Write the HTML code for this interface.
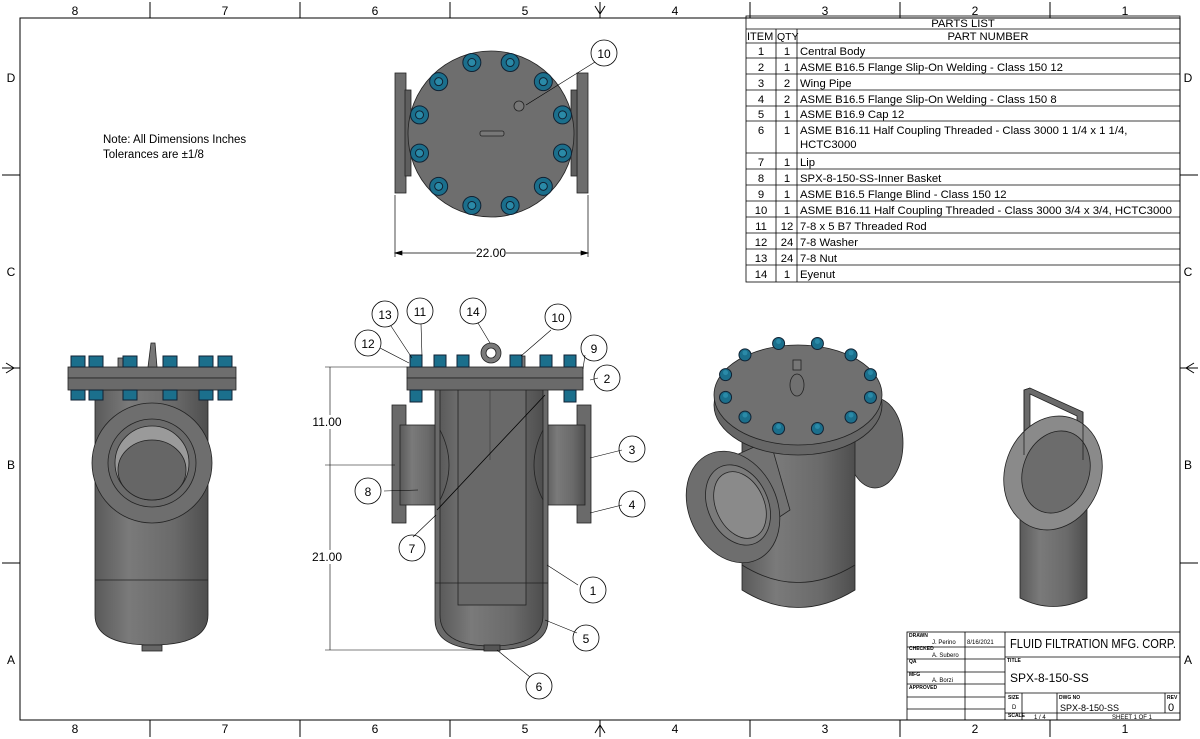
<!DOCTYPE html>
<html><head><meta charset="utf-8"><style>
body{margin:0;background:#fff}
svg{display:block;font-family:"Liberation Sans",sans-serif}
</style></head><body>
<svg id="s" width="1200" height="739" viewBox="0 0 1200 739" xmlns="http://www.w3.org/2000/svg">
<defs>
<linearGradient id="g" x1="0" x2="1" y1="0" y2="0"><stop offset="0" stop-color="#5a5a5a"/><stop offset=".3" stop-color="#7a7a7a"/><stop offset=".7" stop-color="#6a6a6a"/><stop offset="1" stop-color="#4e4e4e"/></linearGradient>
</defs>
<g stroke="#000" stroke-width="1" fill="none">
<rect x="20" y="18" width="1160" height="702"/>
<path d="M150 2V18M300 2V18M450 2V18M750 2V18M900 2V18M1050 2V18M150 720V737M300 720V737M450 720V737M750 720V737M900 720V737M1050 720V737M2 175H20M2 563H20M1180 175H1198M1180 563H1198M600 2V18M600 720V737M2 368H20M1180 368H1198"/>
<path d="M595 6L600 14L605 6M595 733L600 725L605 733M6 363L14 368L6 373M1194 363L1186 368L1194 373"/>
</g>
<g font-size="12" text-anchor="middle">
<text x="75" y="15">8</text><text x="225" y="15">7</text><text x="375" y="15">6</text><text x="525" y="15">5</text><text x="675" y="15">4</text><text x="825" y="15">3</text><text x="975" y="15">2</text><text x="1125" y="15">1</text>
<text x="75" y="733">8</text><text x="225" y="733">7</text><text x="375" y="733">6</text><text x="525" y="733">5</text><text x="675" y="733">4</text><text x="825" y="733">3</text><text x="975" y="733">2</text><text x="1125" y="733">1</text>
<text x="11" y="82">D</text><text x="11" y="276">C</text><text x="11" y="469">B</text><text x="11" y="664">A</text>
<text x="1188" y="82">D</text><text x="1188" y="276">C</text><text x="1188" y="469">B</text><text x="1188" y="664">A</text>
</g>
<text x="103" y="143" font-size="11.5">Note: All Dimensions Inches</text>
<text x="103" y="158" font-size="11.5">Tolerances are ±1/8</text>

<!-- parts list -->
<g stroke="#000" stroke-width="0.8" fill="none">
<rect x="746" y="16" width="434" height="266"/>
<path d="M746 29H1180M746 43H1180M746 58H1180M746 74H1180M746 90H1180M746 106H1180M746 121H1180M746 153H1180M746 169H1180M746 185H1180M746 201H1180M746 217H1180M746 233H1180M746 249H1180M746 265H1180M776 29V282M797 29V282"/>
</g>
<g font-size="11.3">
<text x="963" y="27" text-anchor="middle">PARTS LIST</text>
<text x="747" y="40" font-size="11">ITEM</text><text x="777" y="40" font-size="10.5">QTY</text><text x="988" y="40" text-anchor="middle">PART NUMBER</text>
<g text-anchor="middle">
<text x="761" y="55">1</text><text x="787" y="55">1</text>
<text x="761" y="71">2</text><text x="787" y="71">1</text>
<text x="761" y="87">3</text><text x="787" y="87">2</text>
<text x="761" y="103">4</text><text x="787" y="103">2</text>
<text x="761" y="118">5</text><text x="787" y="118">1</text>
<text x="761" y="134">6</text><text x="787" y="134">1</text>
<text x="761" y="166">7</text><text x="787" y="166">1</text>
<text x="761" y="182">8</text><text x="787" y="182">1</text>
<text x="761" y="198">9</text><text x="787" y="198">1</text>
<text x="761" y="214">10</text><text x="787" y="214">1</text>
<text x="761" y="230">11</text><text x="787" y="230">12</text>
<text x="761" y="246">12</text><text x="787" y="246">24</text>
<text x="761" y="262">13</text><text x="787" y="262">24</text>
<text x="761" y="278">14</text><text x="787" y="278">1</text>
</g>
<text x="800" y="55">Central Body</text>
<text x="800" y="71">ASME B16.5 Flange Slip-On Welding - Class 150 12</text>
<text x="800" y="87">Wing Pipe</text>
<text x="800" y="103">ASME B16.5 Flange Slip-On Welding - Class 150 8</text>
<text x="800" y="118">ASME B16.9 Cap 12</text>
<text x="800" y="134">ASME B16.11 Half Coupling Threaded - Class 3000 1 1/4 x 1 1/4,</text>
<text x="800" y="148">HCTC3000</text>
<text x="800" y="166">Lip</text>
<text x="800" y="182">SPX-8-150-SS-Inner Basket</text>
<text x="800" y="198">ASME B16.5 Flange Blind - Class 150 12</text>
<text x="800" y="214" textLength="372" lengthAdjust="spacingAndGlyphs">ASME B16.11 Half Coupling Threaded - Class 3000 3/4 x 3/4, HCTC3000</text>
<text x="800" y="230">7-8 x 5 B7 Threaded Rod</text>
<text x="800" y="246">7-8 Washer</text>
<text x="800" y="262">7-8 Nut</text>
<text x="800" y="278">Eyenut</text>
</g>

<!-- title block -->
<g stroke="#000" stroke-width="0.8" fill="none">
<rect x="907" y="632" width="273" height="88"/>
<path d="M907 647H1005M907 659H1005M907 672H1005M907 684H1005M907 697H1005M907 709H1005M965 632V720M1005 632V720M1005 657H1180M1005 693H1180M1005 713H1180M1022 693V720M1057 693V720M1165 693V713"/>
</g>
<g font-size="5" font-weight="bold"><text x="909" y="637">DRAWN</text><text x="909" y="650">CHECKED</text><text x="909" y="663">QA</text><text x="909" y="676">MFG</text><text x="909" y="689">APPROVED</text><text x="1007" y="662">TITLE</text><text x="1008" y="699">SIZE</text><text x="1059" y="699">DWG NO</text><text x="1167" y="699">REV</text><text x="1008" y="717">SCALE</text></g>
<g font-size="6"><text x="932" y="644">J. Perino</text><text x="967" y="644">8/16/2021</text><text x="932" y="657">A. Subero</text><text x="932" y="682">A. Borzi</text><text x="1012" y="709">D</text><text x="1034" y="719">1 / 4</text><text x="1112" y="719">SHEET 1  OF 1</text></g>
<text x="1010" y="648" font-size="13" textLength="166" lengthAdjust="spacingAndGlyphs">FLUID FILTRATION MFG. CORP.</text>
<text x="1010" y="682" font-size="12">SPX-8-150-SS</text>
<text x="1060" y="711" font-size="9">SPX-8-150-SS</text>
<text x="1168" y="711" font-size="11">0</text>

<!-- top view -->
<g stroke="#222" stroke-width="0.8">
<rect x="395" y="73" width="11" height="120" fill="#6d6d6d"/>
<rect x="577" y="73" width="11" height="120" fill="#6d6d6d"/>
<rect x="405" y="90" width="6" height="86" fill="#5e5e5e"/>
<rect x="571" y="90" width="6" height="86" fill="#5e5e5e"/>
<circle cx="491" cy="134" r="83" fill="#6e6e6e"/>
<circle cx="519" cy="106" r="5" fill="#777"/>
<rect x="480" y="131" width="24" height="5" rx="2" fill="#777"/>
</g>
<g id="tb"></g>
<g stroke="#000" stroke-width="0.7"><path d="M395 195V257M588 195V257M395 253H588"/><path d="M395 253l7 -2v4zM588 253l-7 -2v4z" fill="#000"/></g>
<rect x="476" y="245" width="30" height="14" fill="#fff"/>
<text x="491" y="257" font-size="12" text-anchor="middle">22.00</text>

<!-- section view -->
<g stroke="#222" stroke-width="0.8">
<rect x="392" y="405" width="14" height="118" fill="#6a6a6a"/>
<rect x="577" y="405" width="14" height="118" fill="#6a6a6a"/>
<rect x="400" y="425" width="40" height="80" fill="url(#g)"/>
<rect x="545" y="425" width="40" height="80" fill="url(#g)"/>
<path d="M435 385H548V620Q548 650 491 650Q435 650 435 620Z" fill="#6a6a6a"/>
<path d="M440 385H543V615Q543 646 491 646Q440 646 440 615Z" fill="url(#g)"/>
<rect x="458" y="385" width="68" height="220" fill="#696969"/>
<path d="M490 385V460" stroke="#444"/>
<path d="M435 583H548"/>
<path d="M440 430Q458 465 440 500M543 430Q525 465 543 500" fill="none"/>
<path d="M437 510L545 395" fill="none" stroke="#000"/>
<rect x="407" y="367" width="176" height="11" fill="#6e6e6e"/>
<rect x="407" y="378" width="176" height="12" fill="#6a6a6a"/>
<rect x="484" y="645" width="16" height="6" fill="#555"/>
<circle cx="491" cy="353" r="10" fill="#7a7a7a"/><circle cx="491" cy="353" r="5" fill="#fff"/>
<rect x="515" y="356" width="10" height="11" fill="#777"/>
</g>
<g id="sb"></g>
<g stroke="#000" stroke-width="0.6" fill="none">
<path d="M325 367H407M325 465H395M325 650H484M330 367V650"/>
<path d="M391 326L412 358M421 324L422 356M380 348L409 363M478 323L490 343M551 330L521 356M583 369L585 355M590 380L598 378M590 458L622 450M590 513L622 505M547 565L578 585M545 620L577 633M497 650L530 677M436 515L413 537M418 490L384 491"/>
</g>
<g fill="none" stroke="#000" stroke-width="0.8">
<circle cx="604" cy="53" r="13"/><circle cx="385" cy="314" r="13"/><circle cx="420" cy="311" r="13"/><circle cx="473" cy="311" r="13"/><circle cx="558" cy="317" r="13"/><circle cx="368" cy="343" r="13"/><circle cx="594" cy="348" r="13"/><circle cx="607" cy="378" r="13"/><circle cx="632" cy="449" r="13"/><circle cx="632" cy="504" r="13"/><circle cx="368" cy="491" r="13"/><circle cx="412" cy="548" r="13"/><circle cx="593" cy="590" r="13"/><circle cx="586" cy="638" r="13"/><circle cx="539" cy="686" r="13"/>
</g>
<path d="M526 105L595 62" stroke="#000" stroke-width="0.6"/>
<g font-size="12" text-anchor="middle">
<text x="604" y="58">10</text><text x="385" y="319">13</text><text x="420" y="316">11</text><text x="473" y="316">14</text><text x="558" y="322">10</text><text x="368" y="348">12</text><text x="594" y="353">9</text><text x="607" y="383">2</text><text x="632" y="454">3</text><text x="632" y="509">4</text><text x="368" y="496">8</text><text x="412" y="553">7</text><text x="593" y="595">1</text><text x="586" y="643">5</text><text x="539" y="691">6</text>
</g>
<rect x="312" y="415" width="30" height="14" fill="#fff"/><text x="327" y="426" font-size="12" text-anchor="middle">11.00</text>
<rect x="312" y="550" width="30" height="14" fill="#fff"/><text x="327" y="561" font-size="12" text-anchor="middle">21.00</text>

<!-- left view -->
<g stroke="#222" stroke-width="0.8">
<path d="M95 390H208V615Q208 645 152 645Q95 645 95 615Z" fill="url(#g)"/>
<path d="M95 580H208"/>
<rect x="142" y="645" width="20" height="6" fill="#666"/>
<circle cx="152" cy="463" r="60" fill="#6e6e6e"/>
<circle cx="152" cy="463" r="44" fill="#6a6a6a"/>
<circle cx="152" cy="463" r="37" fill="#9a9a9a"/>
<ellipse cx="152" cy="470" rx="34" ry="30" fill="#666"/>
<rect x="68" y="367" width="168" height="11" fill="#6e6e6e"/>
<rect x="68" y="378" width="168" height="12" fill="#6a6a6a"/>
<path d="M148 367L151 343H155L157 367Z" fill="#777"/>
<rect x="118" y="358" width="9" height="9" fill="#777"/>
</g>
<g id="lb"></g>

<!-- iso view -->
<g stroke="#222" stroke-width="0.8">
<ellipse cx="875" cy="443" rx="28" ry="45" fill="#6a6a6a"/>
<path d="M742 440V590Q798 625 855 590V440Z" fill="url(#g)"/>
<path d="M742 565Q798 600 855 565" fill="none"/>
<path d="M725 460L770 440L790 510L745 540Z" fill="#727272"/>
<ellipse cx="733" cy="507" rx="44" ry="58" transform="rotate(-25 733 507)" fill="#6e6e6e"/>
<ellipse cx="738" cy="505" rx="30" ry="42" transform="rotate(-25 738 505)" fill="#7a7a7a"/>
<ellipse cx="740" cy="505" rx="24" ry="35" transform="rotate(-25 740 505)" fill="#8a8a8a"/>
<ellipse cx="798" cy="405" rx="84" ry="50" fill="#666"/>
<ellipse cx="798" cy="395" rx="84" ry="50" fill="#707070"/>
<ellipse cx="797" cy="385" rx="7" ry="11" fill="none" stroke="#222"/>
<rect x="793" y="360" width="8" height="10" fill="#777"/>
</g>
<g id="ib"></g>

<!-- basket -->
<g stroke="#222" stroke-width="0.8">
<path d="M1020 460V598Q1053 615 1087 598V460Z" fill="url(#g)"/>
<path d="M1024 455V390L1030 388L1083 412V470L1077 470V416L1030 394V455Z" fill="#6a6a6a"/>
<ellipse cx="1053" cy="473" rx="48" ry="58" transform="rotate(20 1053 473)" fill="#8a8a8a"/>
<ellipse cx="1056" cy="472" rx="33" ry="42" transform="rotate(20 1056 472)" fill="#6c6c6c"/>
<path d="M1024 455V390L1030 388M1083 412V460" fill="none"/>
</g>
</svg>
<script>
const NS="http://www.w3.org/2000/svg";
function el(p,t,a){const e=document.createElementNS(NS,t);for(const k in a)e.setAttribute(k,a[k]);p.appendChild(e);return e;}
let tb=document.getElementById("tb");
for(let k=0;k<12;k++){const a=(15+30*k)*Math.PI/180;const x=491+74*Math.cos(a),y=134+74*Math.sin(a);
el(tb,"circle",{cx:x,cy:y,r:9,fill:"#1b6f8c",stroke:"#123"});el(tb,"circle",{cx:x,cy:y,r:4,fill:"#2a8aa8",stroke:"#123"});}
let sb=document.getElementById("sb");
[416,440,463,516,546,570].forEach(x=>{el(sb,"rect",{x:x-6,y:355,width:12,height:12,fill:"#1b6f8c",stroke:"#123"});});
[416,570].forEach(x=>{el(sb,"rect",{x:x-6,y:390,width:12,height:12,fill:"#1b6f8c",stroke:"#123"});});
let lb=document.getElementById("lb");
[78,96,130,170,206,225].forEach(x=>{el(lb,"rect",{x:x-7,y:356,width:14,height:11,fill:"#1b6f8c",stroke:"#123"});el(lb,"rect",{x:x-7,y:390,width:14,height:10,fill:"#1b6f8c",stroke:"#123"});});
let ib=document.getElementById("ib");
for(let k=0;k<12;k++){const a=(15+30*k)*Math.PI/180;const x=798+75*Math.cos(a),y=392+44*Math.sin(a)-6;
el(ib,"circle",{cx:x,cy:y,r:6,fill:"#1b6f8c",stroke:"#123"});el(ib,"circle",{cx:x,cy:y-2,r:2.5,fill:"#2a8aa8"});}
</script>
</body></html>
